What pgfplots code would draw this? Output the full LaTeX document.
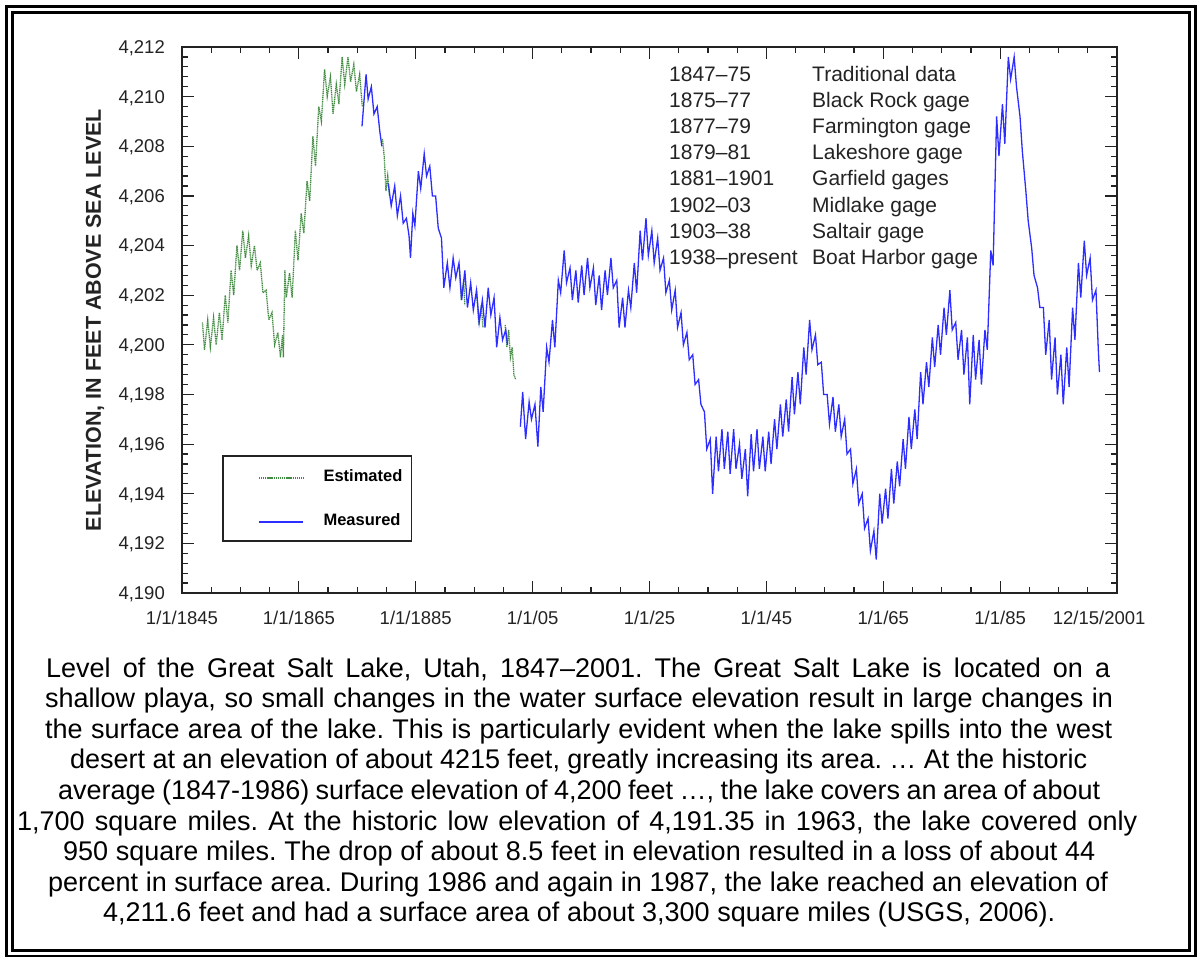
\documentclass[border=0pt]{standalone}
\usepackage{fontspec}
\setmainfont{Liberation Sans}
\usepackage{pgfplots}
\pgfplotsset{compat=1.18}
\definecolor{measc}{RGB}{45,45,255}
\definecolor{estc}{RGB}{65,140,65}
\definecolor{axc}{RGB}{35,35,35}
\frenchspacing
\newcommand{\capline}[4]{\node[anchor=base west,inner sep=0pt,font=\fontsize{27}{30}\selectfont] at (#1,#3) {\makebox[#2pt][s]{#4}};}
\begin{document}
\begin{tikzpicture}
\begin{scope}[x=1pt,y=-1pt]
\path[use as bounding box] (0,0) rectangle (1202,961);
\draw[line width=2.2pt,black] (6.5,6.5) rectangle (1195.5,956);
\draw[line width=2.6pt,black] (12.5,12.5) rectangle (1189.5,950.5);
% gauge table
\begin{scope}[every node/.style={anchor=base west,inner sep=0pt,text=axc,font=\fontsize{21}{24}\selectfont}]
\node at (669,81.5) {1847–75};      \node at (812,81.5) {Traditional data};
\node at (669,107.6) {1875–77};     \node at (812,107.6) {Black Rock gage};
\node at (669,133.7) {1877–79};     \node at (812,133.7) {Farmington gage};
\node at (669,159.8) {1879–81};     \node at (812,159.8) {Lakeshore gage};
\node at (669,185.9) {1881–1901};   \node at (812,185.9) {Garfield gages};
\node at (669,212.0) {1902–03};     \node at (812,212.0) {Midlake gage};
\node at (669,238.1) {1903–38};     \node at (812,238.1) {Saltair gage};
\node at (669,264.2) {1938–present};\node at (812,264.2) {Boat Harbor gage};
\end{scope}
% y label
\node[rotate=90,inner sep=0pt,text=axc,font=\fontsize{21.5}{24}\bfseries] at (95,320) {ELEVATION, IN FEET ABOVE SEA LEVEL};
% caption
\capline{46}{1064}{677.0}{Level of the Great Salt Lake, Utah, 1847–2001. The Great Salt Lake is located on a}
\capline{45}{1068}{707.6}{shallow playa, so small changes in the water surface elevation result in large changes in}
\capline{45}{1067}{738.2}{the surface area of the lake. This is particularly evident when the lake spills into the west}
\capline{70}{1017}{768.8}{desert at an elevation of about 4215 feet, greatly increasing its area. … At the historic}
\capline{58}{1042}{799.4}{average (1847-1986) surface elevation of 4,200 feet …, the lake covers an area of about}
\capline{17}{1120}{830.0}{1,700 square miles. At the historic low elevation of 4,191.35 in 1963, the lake covered only}
\capline{63}{1032}{860.6}{950 square miles. The drop of about 8.5 feet in elevation resulted in a loss of about 44}
\capline{48}{1060}{891.2}{percent in surface area. During 1986 and again in 1987, the lake reached an elevation of}
\capline{103}{952}{921.8}{4,211.6 feet and had a surface area of about 3,300 square miles (USGS, 2006).}
\end{scope}
\begin{axis}[
  at={(182pt,-593pt)}, anchor=south west,
  scale only axis, width=935pt, height=546pt,
  xmin=1845, xmax=2005, ymin=4190, ymax=4212,
  xtick={1845,1865,1885,1905,1925,1945,1965,1985},
  xticklabels={1/1/1845,1/1/1865,1/1/1885,1/1/05,1/1/25,1/1/45,1/1/65,1/1/85},
  extra x ticks={2001.95}, extra x tick labels={12/15/2001},
  extra x tick style={major tick length=0pt},
  minor xtick={1850,1855,...,2005},
  ytick={4190,4192,...,4212},
  yticklabels={{4,190},{4,192},{4,194},{4,196},{4,198},{4,200},{4,202},{4,204},{4,206},{4,208},{4,210},{4,212}},
  minor ytick={4190,4190.4,...,4212.1},
  tick align=inside, major tick length=12pt, minor tick length=6pt,
  axis line style={line width=2pt,draw=axc},
  every tick/.style={line width=1.2pt,draw=axc},
  ticklabel style={font=\fontsize{18.5}{20}\selectfont, text=axc, inner sep=0pt},
  yticklabel style={anchor=base east, xshift=-17pt, yshift=-6.4pt},
  xticklabel style={anchor=north, yshift=-18pt},
  legend cell align=left,
  legend image code/.code={\path[draw=none,fill=none] (-36pt,-3pt) rectangle (44pt,3pt); \draw[#1] (0pt,-1.5pt) -- (44pt,-1.5pt);},
  legend style={at={(rel axis cs:0.04278,0.25275)}, anchor=north west, draw=axc, line width=1.8pt,
     inner xsep=0pt, inner ysep=15pt, row sep=33pt,
     font=\fontsize{16.5}{18}\bfseries,
     nodes={inner sep=0pt, text height=11pt, text depth=0pt, text width=88pt, align=left},
     /tikz/column 1/.style={column sep=20pt}},
  est/.style={color=estc, line width=1.3pt, dash pattern=on 1.2pt off 0.7pt},
  meas/.style={color=measc, line width=1.3pt},
]
% ---------- Estimated ----------
\addplot[est] coordinates {
(1848.5,4200.9)(1848.85,4199.8)(1849.4,4201.0)(1849.85,4199.9)(1850.4,4201.1)(1850.85,4200.0)
(1851.4,4201.3)(1851.85,4200.2)(1852.4,4202.0)(1852.85,4200.9)(1853.4,4203.0)(1853.85,4202.0)
(1854.4,4204.0)(1854.85,4203.0)(1855.4,4204.6)(1855.85,4203.5)(1856.4,4204.4)(1856.85,4203.2)
(1857.4,4204.0)(1857.85,4203.0)(1858.4,4203.3)(1858.85,4202.1)(1859.4,4202.2)(1859.85,4201.0)
(1860.4,4201.3)(1860.85,4200.0)(1861.4,4200.5)(1861.85,4199.5)(1862.2,4200.4)(1862.35,4199.5)
(1862.6,4203.0)(1862.85,4201.9)(1863.4,4202.9)(1863.85,4201.9)(1864.4,4204.6)(1864.85,4203.4)
(1865.4,4205.3)(1865.85,4204.5)(1866.4,4206.6)(1866.85,4205.8)(1867.4,4208.4)(1867.85,4207.2)
(1868.4,4209.6)(1868.85,4209.0)(1869.4,4211.1)(1869.85,4210.0)(1870.4,4210.8)(1870.85,4209.3)
(1871.4,4210.5)(1871.85,4209.7)(1872.4,4211.6)(1872.85,4210.5)(1873.4,4211.6)(1873.85,4210.6)
(1874.4,4211.3)(1874.85,4210.2)(1875.4,4210.9)(1875.85,4209.6)
};
\addlegendentry{Estimated}
\addplot[est,forget plot] coordinates {(1879.3,4208.3)(1879.6,4207.6)(1879.9,4206.2)(1880.2,4206.8)(1880.5,4206.0)};
\addplot[est,forget plot] coordinates {(1892.5,4203.0)(1892.8,4201.8)(1893.2,4202.6)(1893.4,4201.6)};
\addplot[est,forget plot] coordinates {(1895.4,4202.2)(1895.8,4200.8)(1896.2,4201.6)(1896.5,4200.7)};
\addplot[est,forget plot] coordinates {(1900.3,4200.8)(1900.6,4199.9)(1900.9,4200.6)(1901.2,4199.5)(1901.5,4199.9)(1901.8,4198.8)(1902.1,4198.6)};
% ---------- Measured ----------
\addplot[meas] coordinates {
(1875.8,4208.8)(1876.5,4210.9)(1876.85,4209.9)(1877.4,4210.4)(1877.85,4209.3)(1878.4,4209.6)(1878.85,4208.6)(1879.2,4208.0)
};
\addlegendentry{Measured}
\addplot[meas,forget plot] coordinates {
(1880.3,4206.5)(1880.8,4205.6)(1881.4,4206.4)(1881.85,4205.2)(1882.4,4206.0)(1882.85,4204.9)
(1883.4,4205.1)(1883.85,4204.4)(1884.1,4203.5)(1884.5,4205.3)(1884.85,4204.8)(1885.45,4207.0)
(1885.85,4206.3)(1886.45,4207.7)(1886.85,4206.8)(1887.4,4207.2)(1887.85,4206.0)(1888.4,4206.0)
(1888.85,4204.7)(1889.4,4204.3)(1889.8,4202.3)(1890.4,4203.3)(1890.85,4202.3)(1891.4,4203.5)
(1891.85,4202.7)(1892.4,4203.3)(1892.85,4201.8)(1893.4,4203.0)(1893.85,4201.5)(1894.4,4202.5)
(1894.85,4201.4)(1895.4,4202.2)(1895.85,4200.9)(1896.4,4201.8)(1896.85,4200.7)(1897.4,4202.3)
(1897.85,4201.2)(1898.4,4201.9)(1898.85,4199.9)(1899.4,4201.1)(1899.85,4200.2)(1900.4,4200.6)(1900.7,4200.0)
};
\addplot[meas,forget plot] coordinates {
(1902.9,4196.7)(1903.3,4198.1)(1903.8,4196.2)(1904.4,4197.7)(1904.8,4197.0)(1905.4,4197.6)(1905.9,4195.9)
(1906.4,4198.3)(1906.8,4197.3)(1907.4,4199.9)(1907.8,4199.3)(1908.4,4201.0)(1908.8,4199.9)
(1909.4,4202.6)(1909.8,4202.1)(1910.4,4203.8)(1910.8,4202.5)(1911.4,4203.1)(1911.8,4201.8)
(1912.4,4203.0)(1912.8,4201.7)(1913.4,4203.2)(1913.8,4202.0)(1914.4,4203.5)(1914.8,4202.3)
(1915.4,4203.1)(1915.8,4201.6)(1916.4,4202.8)(1916.8,4201.4)(1917.4,4203.0)(1917.8,4202.0)
(1918.4,4203.5)(1918.8,4202.3)(1919.4,4202.6)(1919.8,4200.7)(1920.4,4201.9)(1920.8,4200.7)
(1921.4,4202.2)(1921.8,4201.5)(1922.4,4203.3)(1922.8,4202.1)(1923.4,4204.6)(1923.8,4203.4)
(1924.4,4205.1)(1924.8,4203.6)(1925.4,4204.6)(1925.8,4203.3)(1926.4,4204.3)(1926.8,4203.0)
(1927.4,4203.5)(1927.8,4202.1)(1928.4,4202.6)(1928.8,4201.4)(1929.4,4202.2)(1929.8,4200.7)
(1930.4,4201.3)(1930.8,4200.0)(1931.4,4200.5)(1931.8,4199.4)(1932.4,4199.6)(1932.8,4198.4)
(1933.4,4198.6)(1933.8,4197.6)(1934.4,4197.3)(1934.8,4195.8)(1935.4,4196.2)(1935.8,4194.0)
(1936.4,4196.3)(1936.8,4194.9)(1937.4,4196.6)(1937.8,4195.0)(1938.4,4196.5)(1938.8,4194.8)
(1939.4,4196.6)(1939.8,4195.0)(1940.4,4196.0)(1940.8,4194.6)(1941.4,4195.8)(1941.8,4193.9)
(1942.4,4196.4)(1942.8,4194.9)(1943.4,4196.6)(1943.8,4195.0)(1944.4,4196.3)(1944.8,4194.9)
(1945.4,4196.5)(1945.8,4195.2)(1946.4,4197.0)(1946.8,4195.8)(1947.4,4197.6)(1947.8,4196.3)
(1948.4,4197.8)(1948.8,4196.5)(1949.4,4198.7)(1949.8,4197.2)(1950.4,4198.9)(1950.8,4197.6)
(1951.4,4199.9)(1951.8,4198.8)(1952.4,4201.0)(1952.8,4199.8)(1953.4,4200.4)(1953.8,4199.2)
(1954.4,4199.3)(1954.8,4198.0)(1955.4,4198.0)(1955.8,4196.8)(1956.4,4197.9)(1956.8,4196.5)
(1957.4,4197.6)(1957.8,4196.3)(1958.4,4197.0)(1958.8,4195.6)(1959.4,4195.8)(1959.8,4194.4)
(1960.4,4195.0)(1960.8,4193.6)(1961.4,4194.0)(1961.8,4192.6)(1962.4,4193.0)(1962.8,4191.7)
(1963.4,4192.5)(1963.8,4191.35)(1964.4,4194.0)(1964.8,4192.8)(1965.4,4194.2)(1965.8,4193.0)
(1966.4,4195.0)(1966.8,4193.6)(1967.4,4195.3)(1967.8,4194.3)(1968.4,4196.2)(1968.8,4195.0)
(1969.4,4197.1)(1969.8,4195.8)(1970.4,4197.4)(1970.8,4196.2)(1971.4,4198.9)(1971.8,4197.6)
(1972.4,4199.3)(1972.8,4198.3)(1973.4,4200.3)(1973.8,4199.1)(1974.4,4200.8)(1974.8,4199.6)
(1975.4,4201.5)(1975.8,4200.4)(1976.4,4202.2)(1976.8,4200.6)(1977.4,4200.9)(1977.8,4199.4)
(1978.4,4200.6)(1978.8,4198.8)(1979.4,4200.3)(1979.8,4197.6)(1980.4,4200.4)(1980.8,4198.6)
(1981.4,4200.2)(1981.8,4198.4)(1982.4,4200.6)(1982.8,4199.8)(1983.4,4203.8)(1983.8,4203.2)
(1984.4,4209.2)(1984.8,4207.6)(1985.4,4209.7)(1985.8,4208.1)(1986.4,4211.6)(1986.8,4210.7)
(1987.4,4211.6)(1987.8,4210.4)(1988.4,4209.2)(1988.8,4207.8)(1989.4,4206.2)(1989.8,4205.0)
(1990.4,4203.9)(1990.8,4202.8)(1991.4,4202.3)(1991.8,4201.5)(1992.4,4201.5)(1992.8,4199.6)
(1993.4,4201.0)(1993.8,4198.6)(1994.4,4200.3)(1994.8,4198.0)(1995.4,4199.6)(1995.8,4197.6)
(1996.4,4199.9)(1996.8,4198.3)(1997.4,4201.5)(1997.8,4200.2)(1998.4,4203.3)(1998.8,4201.9)
(1999.4,4204.2)(1999.8,4202.8)(2000.4,4203.5)(2000.8,4201.8)(2001.4,4202.2)(2001.8,4199.8)(2002.0,4198.9)
};
\end{axis}
\end{tikzpicture}
\end{document}
